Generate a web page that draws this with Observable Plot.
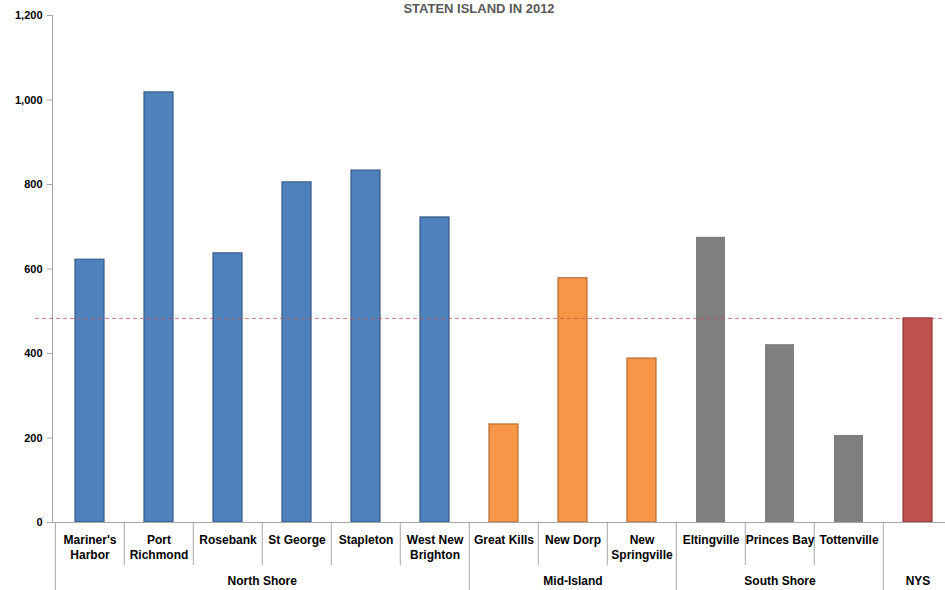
<!DOCTYPE html>
<html><head><meta charset="utf-8">
<script src="https://cdn.jsdelivr.net/npm/d3@7"></script>
<script src="https://cdn.jsdelivr.net/npm/@observablehq/plot@0.6"></script>
<style>
html,body{margin:0;padding:0;background:#fff;}
svg{font-family:"Liberation Sans Narrow","Liberation Sans",sans-serif;}
</style></head>
<body><div id="chart"></div>
<script>
const categories = ["Mariner's\nHarbor","Port\nRichmond","Rosebank","St George","Stapleton","West New\nBrighton","Great Kills","New Dorp","New\nSpringville","Eltingville","Princes Bay","Tottenville","NYS"];
const categoryLabels = ["Mariner's\nHarbor","Port\nRichmond","Rosebank","St George","Stapleton","West New\nBrighton","Great Kills","New Dorp","New\nSpringville","Eltingville","Princes Bay","Tottenville",""];
const values = [622,1018,637,805,833,722,232,578,388,675,421,206,483];
const groupOf = ["North Shore","North Shore","North Shore","North Shore","North Shore","North Shore","Mid-Island","Mid-Island","Mid-Island","South Shore","South Shore","South Shore","NYS"];
const groups = ["North Shore","Mid-Island","South Shore","NYS"];
const groupFill = ["#4f81bd","#f79646","#7f7f7f","#c0504d"];
const groupStroke = ["#385d8a","#b66d31","none","#8c3836"];
const referenceValue = 483;
const yTicks = [0,200,400,600,800,1000,1200];
const title = "STATEN ISLAND IN 2012";

const W = 945, H = 590, left = 52, rightEnd = 955;
const bw = (rightEnd - left) / categories.length;
const rows = categories.map((c,i)=>({cat:c, label:categoryLabels[i], value:values[i], group:groupOf[i]}));

const seps = [];
categories.forEach((c,i)=>{
  const isGroupStart = i===0 || groupOf[i]!==groupOf[i-1];
  seps.push({cat:c, y2: isGroupStart ? -170 : -102});
});
const gl = groups.map(g=>{
  const idx = categories.map((c,i)=>i).filter(i=>groupOf[i]===g);
  const n = idx.length;
  const mid = idx[Math.floor(n/2)];
  return {group:g, cat:categories[mid], dx: n%2===0 ? -bw/2 : 0};
});

const fmt = d3.format(",");
const chart = Plot.plot({
  width: W, height: H,
  marginLeft: left, marginRight: 0, marginTop: 15, marginBottom: 68,
  x: {domain: categories, range:[left, rightEnd], padding: 0, axis: null},
  y: {domain:[0,1200], axis: null},
  color: {domain: groups, range: groupFill},
  marks: [
    Plot.frame({anchor:"left", stroke:"#a6a6a6"}),
    Plot.axisY({ticks: yTicks, tickSize: 5, tickPadding: 5, stroke:"#a6a6a6", tickFormat: fmt, fontWeight:"bold", fontSize: 11, fill:"#000", label:null}),
    Plot.barY(rows, {x:"cat", y:"value", fill:"group", stroke: d=>groupStroke[groups.indexOf(d.group)], strokeWidth: 1.2, insetLeft: 20, insetRight: 20}),
    Plot.ruleY([referenceValue], {stroke:"#c0504d", strokeOpacity: 0.75, strokeDasharray:"4,3", strokeWidth:1, insetLeft:-17}),
    Plot.ruleY([0], {stroke:"#a6a6a6", insetLeft:-5}),
    ...seps.map(s => Plot.ruleX([s], {x:"cat", y1:0, y2: s.y2, dx: -bw/2, stroke:"#a6a6a6"})),
    Plot.text(rows, {x:"cat", y:-26, text:"label", lineAnchor:"top", fontWeight:"bold", fontSize:12, lineHeight:1.25, fill:"#000"}),
    ...gl.map(g => Plot.text([g], {x:"cat", y:-139.6, text:"group", dx:g.dx, fontWeight:"bold", fontSize:12, fill:"#000"})),
    Plot.text([title], {frameAnchor:"top", text: d=>d, dx:-20, dy:-3, lineAnchor:"bottom", fontWeight:"bold", fontSize:13, fill:"#595959"})
  ]
});
document.getElementById("chart").appendChild(chart);
</script></body></html>
